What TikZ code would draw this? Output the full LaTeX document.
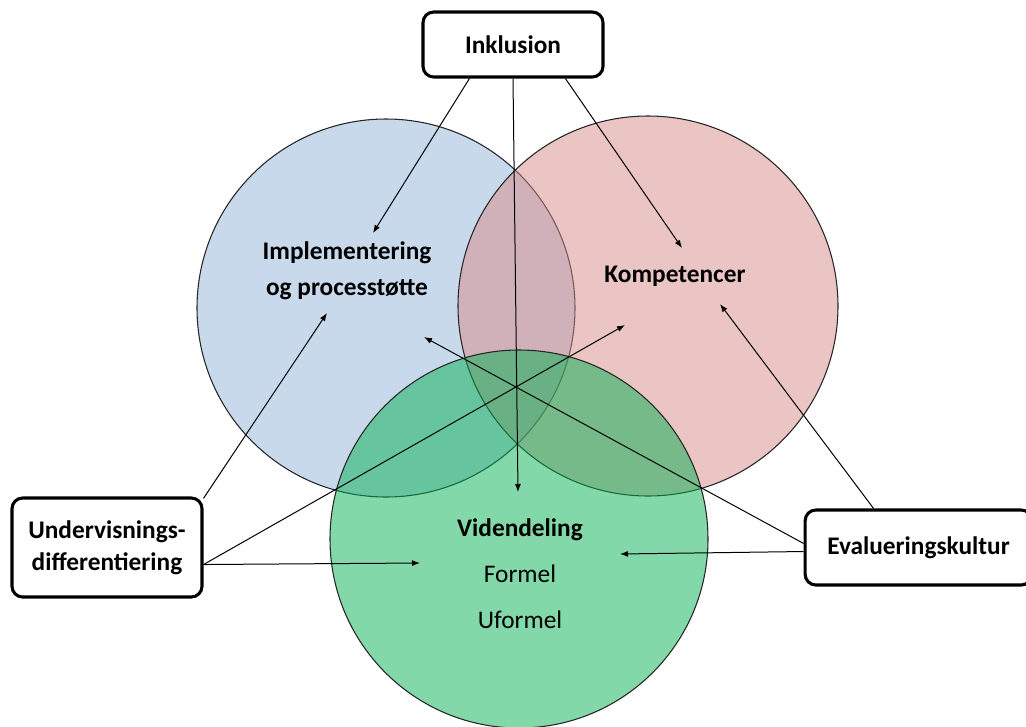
\documentclass[tikz,border=0pt]{standalone}
\usepackage{fontspec}
\setmainfont{Carlito}
\usetikzlibrary{arrows.meta}
\definecolor{feltblaa}{RGB}{147,179,217}
\definecolor{feltrosa}{RGB}{215,137,137}
\definecolor{feltgroen}{RGB}{5,177,81}
\tikzset{
	felt/.style={draw=black!85, line width=0.8pt, fill opacity=0.5},
	boks/.style={draw, line width=2.3pt, rounded corners=8pt, fill=white, align=center, font=\bfseries\fontsize{19}{24}\selectfont},
	overskrift/.style={font=\bfseries\fontsize{19}{27}\selectfont, align=center},
	punkt/.style={font=\fontsize{19}{22}\selectfont},
	pil/.style={-{Latex[length=6pt,width=4.5pt]}, line width=0.75pt}
}
\begin{document}
\begin{tikzpicture}[x=0.75pt, y=-0.75pt]
	\useasboundingbox (0,0) rectangle (1026,726);
	% de tre felter
	\filldraw[felt, fill=feltblaa] (386,308) circle (189);
	\filldraw[felt, fill=feltrosa] (648,306) circle (190);
	\filldraw[felt, fill=feltgroen] (519,539) circle (189);
	% bokse
	\node[boks, minimum width=135pt, minimum height=48.75pt] (inklusion) at (513,44.5) {Inklusion};
	\node[boks, minimum width=142.5pt, minimum height=74.25pt] (undervisning) at (107,547.5) {Undervisnings-\\differentiering};
	\node[boks, minimum width=170pt, minimum height=56.25pt] (evaluering) at (918.5,547.5) {Evalueringskultur};
	% tekst i felterne
	\node[overskrift] (implementering) at (347,271) {Implementering\\og processtøtte};
	\node[overskrift, anchor=base] (kompetencer) at (675,282) {Kompetencer};
	\node[overskrift, anchor=base] (videndeling) at (520,536) {Videndeling};
	\node[punkt, anchor=base] (formel) at (520,582) {Formel};
	\node[punkt, anchor=base] (uformel) at (520,628) {Uformel};
	% pilespidser
	\coordinate (iImpl) at (373,233);
	\coordinate (iViden) at (518,492);
	\coordinate (iKomp) at (682,248);
	\coordinate (uImpl) at (327,313);
	\coordinate (uKomp) at (625,325);
	\coordinate (uViden) at (420,563);
	\coordinate (eKomp) at (720,304);
	\coordinate (eViden) at (620,554);
	\coordinate (eImpl) at (424,337);
	% pile
	\draw[pil] (inklusion.-142) -- (iImpl);
	\draw[pil] (inklusion.south) -- (iViden);
	\draw[pil] (inklusion.-33) -- (iKomp);
	\draw[pil] (undervisning.27) -- (uImpl);
	\draw[pil] (undervisning.-10) -- (uKomp);
	\draw[pil] (undervisning.-10) -- (uViden);
	\draw[pil] (evaluering.139) -- (eKomp);
	\draw[pil] (evaluering.182) -- (eViden);
	\draw[pil] (evaluering.178) -- (eImpl);
\end{tikzpicture}
\end{document}
